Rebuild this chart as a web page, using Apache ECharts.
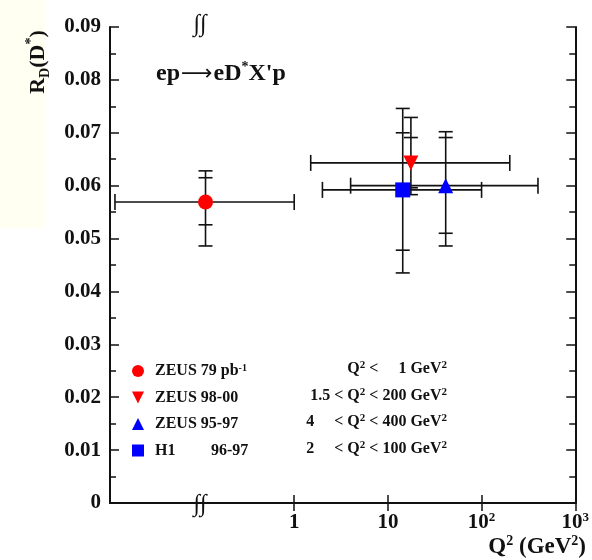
<!DOCTYPE html>
<html>
<head>
<meta charset="utf-8">
<script src="https://cdn.jsdelivr.net/npm/echarts@6/dist/echarts.min.js"></script>
<style>
html,body{margin:0;padding:0;background:#fff;}
#c{width:592px;height:560px;}
</style>
</head>
<body>
<div id="c"></div>
<script>
// ---- data ----
const names = ['ZEUS 79 pb-1', 'ZEUS 98-00', 'ZEUS 95-97', 'H1 96-97'];
const q2Center = [0.113, 17.6, 41.4, 14.4];
const q2Low = [0.0122, 1.5, 4, 2];
const q2High = [1, 200, 400, 100];
const rd = [0.0569, 0.0643, 0.0600, 0.0592];
const statLow = [0.0526, 0.0596, 0.0510, 0.0478];
const statHigh = [0.0615, 0.0691, 0.0691, 0.0700];
const totLow = [0.0486, 0.0583, 0.0486, 0.0435];
const totHigh = [0.0628, 0.0729, 0.0702, 0.0746];
const q2Ranges = [
  '{b|Q}{s|2}{b| <     1 GeV}{s|2}',
  '{b|1.5 < Q}{s|2}{b| < 200 GeV}{s|2}',
  '{b|4     < Q}{s|2}{b| < 400 GeV}{s|2}',
  '{b|2     < Q}{s|2}{b| < 100 GeV}{s|2}'
];
const xTickValues = [1, 10, 100, 1000];
const xTickLabels = ['1', '10', '10{s|2}', '10{s|3}'];
const yMin = 0, yMax = 0.09, yInterval = 0.01;
const xMin = 0.0108, xMax = 1000;

const FONT = '"Liberation Serif", "Times New Roman", serif';
const INK = '#111';
const symbols = ['circle', 'path://M0,0 L10,0 L5,10 Z', 'triangle', 'rect'];
const colors = ['#ff0000', '#ff0000', '#0000ff', '#0000ff'];
const legendLabels = ['ZEUS 79 pb{s|-1}', 'ZEUS 98-00', 'ZEUS 95-97', '{h|H1}96-97'];

const chart = echarts.init(document.getElementById('c'), null, {renderer: 'canvas'});

function errRender(params, api) {
  const x = api.value(0), y = api.value(1);
  const c = api.coord([x, y]);
  const xl = api.coord([api.value(2), y]);
  const xh = api.coord([api.value(3), y]);
  const sl = api.coord([x, api.value(4)]);
  const sh = api.coord([x, api.value(5)]);
  const tl = api.coord([x, api.value(6)]);
  const th = api.coord([x, api.value(7)]);
  const st = {stroke: INK, lineWidth: 1.6};
  const capW = 7, capH = 8;
  const L = (x1, y1, x2, y2) => ({type: 'line', shape: {x1, y1, x2, y2}, style: st});
  return {
    type: 'group',
    children: [
      L(xl[0], c[1], xh[0], c[1]),
      L(xl[0], c[1] - capH, xl[0], c[1] + capH),
      L(xh[0], c[1] - capH, xh[0], c[1] + capH),
      L(c[0], tl[1], c[0], th[1]),
      L(c[0] - capW, tl[1], c[0] + capW, tl[1]),
      L(c[0] - capW, th[1], c[0] + capW, th[1]),
      L(c[0] - capW, sl[1], c[0] + capW, sl[1]),
      L(c[0] - capW, sh[1], c[0] + capW, sh[1])
    ]
  };
}

const series = [];
names.forEach((n, i) => {
  series.push({
    type: 'custom', name: n, renderItem: errRender, z: 2,
    encode: {x: [0, 2, 3], y: [1, 4, 5, 6, 7]},
    data: [[q2Center[i], rd[i], q2Low[i], q2High[i], statLow[i], statHigh[i], totLow[i], totHigh[i]]],
    silent: true
  });
  series.push({
    type: 'scatter', name: n, z: 3,
    symbol: symbols[i], symbolSize: 15,
    itemStyle: {color: colors[i], opacity: 1},
    data: [[q2Center[i], rd[i]]]
  });
});

const axisLineStyle = {color: INK, width: 2};

const graphics = [
  {type: 'rect', left: 0, top: 0, shape: {width: 45, height: 228}, style: {fill: '#fffff2'}, z: -10},
  {type: 'text', x: 38, y: 62, rotation: Math.PI / 2, style: {
    text: '{b|R}{sub|D}{b|(D}{sup|*}{b|)}', textAlign: 'center', textVerticalAlign: 'middle',
    rich: {
      b: {fontFamily: FONT, fontWeight: 'bold', fontSize: 22, lineHeight: 28, fill: INK},
      sub: {fontFamily: FONT, fontWeight: 'bold', fontSize: 14, lineHeight: 14, verticalAlign: 'bottom', fill: INK},
      sup: {fontFamily: FONT, fontWeight: 'bold', fontSize: 14, lineHeight: 14, verticalAlign: 'top', fill: INK}
    }
  }},
  {type: 'text', right: 6, top: 534, style: {
    text: '{b|Q}{sup|2}{b| (GeV}{sup|2}{b|)}',
    rich: {
      b: {fontFamily: FONT, fontWeight: 'bold', fontSize: 23, lineHeight: 26, fill: INK},
      sup: {fontFamily: FONT, fontWeight: 'bold', fontSize: 14, lineHeight: 14, verticalAlign: 'top', fill: INK}
    }
  }},
  {type: 'text', x: 200, y: 25, z: 10, style: {text: '\u222b\u222b', font: '24px ' + FONT, fill: INK, textAlign: 'center', textVerticalAlign: 'middle'}},
  {type: 'text', x: 200, y: 505, z: 10, style: {text: '\u222b\u222b', font: '24px ' + FONT, fill: INK, textAlign: 'center', textVerticalAlign: 'middle'}}
];
const rowY = [369, 395.5, 422, 448.5];
q2Ranges.forEach((t, i) => {
  graphics.push({type: 'text', x: 447, y: rowY[i], style: {
    text: t, textAlign: 'right', textVerticalAlign: 'middle',
    rich: {
      b: {fontFamily: FONT, fontWeight: 'bold', fontSize: 16, lineHeight: 18, fill: INK},
      s: {fontFamily: FONT, fontWeight: 'bold', fontSize: 11, lineHeight: 11, verticalAlign: 'top', fill: INK}
    }
  }});
});

const option = {
  animation: false,
  backgroundColor: '#fff',
  title: {
    text: '{t|ep}{a|\u27f6}{t|eD}{s|*}{t|X\'p}', left: 151, top: 55,
    textStyle: {
      fontFamily: FONT, fontWeight: 'bold', fontSize: 24, color: INK,
      rich: {
        t: {fontFamily: FONT, fontWeight: 'bold', fontSize: 24, lineHeight: 28, color: INK},
        a: {fontFamily: '"DejaVu Sans"', fontWeight: 'normal', fontSize: 22, lineHeight: 28, color: INK, padding: [0, 1, 0, 1]},
        s: {fontFamily: FONT, fontWeight: 'bold', fontSize: 14, lineHeight: 14, verticalAlign: 'top', color: INK}
      }
    }
  },
  legend: {
    orient: 'vertical', left: 127, top: 358, itemWidth: 12, itemHeight: 12, itemGap: 10.5,
    selectedMode: false,
    data: names.map((n, i) => ({name: n, icon: symbols[i], itemStyle: {color: colors[i]}})),
    formatter: n => legendLabels[names.indexOf(n)],
    textStyle: {
      fontFamily: FONT, fontWeight: 'bold', fontSize: 16, color: INK, lineHeight: 16, padding: [0, 0, 0, 6],
      rich: {
        s: {fontFamily: FONT, fontWeight: 'bold', fontSize: 10, lineHeight: 10, verticalAlign: 'top', color: INK},
        h: {fontFamily: FONT, fontWeight: 'bold', fontSize: 16, lineHeight: 16, width: 56, color: INK}
      }
    }
  },
  grid: {left: 110, right: 15, top: 27, bottom: 57},
  xAxis: [{
    type: 'log', min: xMin, max: xMax, position: 'bottom',
    axisLine: {lineStyle: axisLineStyle},
    axisTick: {inside: true, length: 8, customValues: xTickValues, lineStyle: {color: INK, width: 1.5}},
    axisLabel: {
      customValues: xTickValues, margin: 8,
      formatter: v => xTickLabels[xTickValues.indexOf(v)] || '',
      fontFamily: FONT, fontWeight: 'bold', fontSize: 21, color: INK, lineHeight: 24,
      rich: {s: {fontFamily: FONT, fontWeight: 'bold', fontSize: 13, lineHeight: 13, verticalAlign: 'top', color: INK}}
    },
    splitLine: {show: false}, minorTick: {show: false}
  }, {
    type: 'log', min: xMin, max: xMax, position: 'top',
    axisLine: {lineStyle: axisLineStyle},
    axisTick: {inside: true, length: 8, customValues: xTickValues, lineStyle: {color: INK, width: 1.5}},
    axisLabel: {show: false},
    splitLine: {show: false}
  }],
  yAxis: [{
    type: 'value', min: yMin, max: yMax, interval: yInterval, position: 'left',
    axisLine: {show: true, lineStyle: axisLineStyle},
    axisTick: {show: true, inside: true, length: 9, lineStyle: {color: INK, width: 1.5}},
    minorTick: {show: true, splitNumber: 2, length: 6, lineStyle: {color: INK, width: 1.5}},
    axisLabel: {
      margin: 9, fontFamily: FONT, fontWeight: 'bold', fontSize: 21, color: INK,
      formatter: v => v === 0 ? '0' : v.toFixed(2)
    },
    splitLine: {show: false}, minorSplitLine: {show: false}
  }, {
    type: 'value', min: yMin, max: yMax, interval: yInterval, position: 'right',
    axisLine: {show: true, lineStyle: axisLineStyle},
    axisTick: {show: true, inside: true, length: 9, lineStyle: {color: INK, width: 1.5}},
    minorTick: {show: true, splitNumber: 2, length: 6, lineStyle: {color: INK, width: 1.5}},
    axisLabel: {show: false},
    splitLine: {show: false}, minorSplitLine: {show: false}
  }],
  graphic: graphics,
  series: series
};
chart.setOption(option);
</script>
</body>
</html>
